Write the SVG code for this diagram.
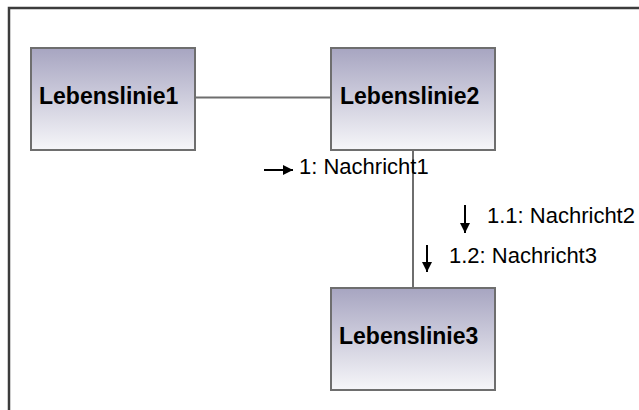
<svg xmlns="http://www.w3.org/2000/svg" width="639" height="410" viewBox="0 0 639 410">
<defs>
<linearGradient id="g" x1="0" y1="0" x2="0" y2="1">
<stop offset="0" stop-color="#a7a5c1"/>
<stop offset="1" stop-color="#f6f6f9"/>
</linearGradient>
<marker id="ah" viewBox="0 0 10 10" refX="10" refY="5" markerWidth="10" markerHeight="10" markerUnits="userSpaceOnUse" orient="auto">
<path d="M0,0 L10,5 L0,10 z" fill="#000"/>
</marker>
<style>
.box{fill:url(#g);stroke:#6e6e6e;stroke-width:2}
.name{font-family:"Liberation Sans",Arial,sans-serif;font-weight:bold;font-size:23px;fill:#000}
.msg{font-family:"Liberation Sans",Arial,sans-serif;font-size:22px;fill:#000}
.link{stroke:#6e6e6e;stroke-width:2;fill:none}
.arr{stroke:#000;stroke-width:2;fill:none;marker-end:url(#ah)}
</style>
</defs>
<rect width="639" height="410" fill="#fff"/>
<path d="M9,420 L9,8 L650,8" fill="none" stroke="#3c3c3c" stroke-width="2.5"/>
<g id="connectors">
<line class="link" x1="195" y1="97.5" x2="331" y2="97.5"/>
<line class="link" x1="413" y1="150" x2="413" y2="287"/>
<line class="arr" x1="264" y1="170" x2="293" y2="170"/>
<line class="arr" x1="465" y1="205" x2="465" y2="233"/>
<line class="arr" x1="427" y1="245" x2="427" y2="272"/>
<text class="msg" x="299" y="174">1: Nachricht1</text>
<text class="msg" x="487" y="223">1.1: Nachricht2</text>
<text class="msg" x="449" y="263">1.2: Nachricht3</text>
</g>
<g id="lebenslinie1">
<rect class="box" x="31" y="48" width="164" height="102"/>
<text class="name" x="39" y="104">Lebenslinie1</text>
</g>
<g id="lebenslinie2">
<rect class="box" x="331" y="48" width="164" height="102"/>
<text class="name" x="340" y="104">Lebenslinie2</text>
</g>
<g id="lebenslinie3">
<rect class="box" x="331" y="288" width="164" height="102"/>
<text class="name" x="339" y="344">Lebenslinie3</text>
</g>
</svg>
